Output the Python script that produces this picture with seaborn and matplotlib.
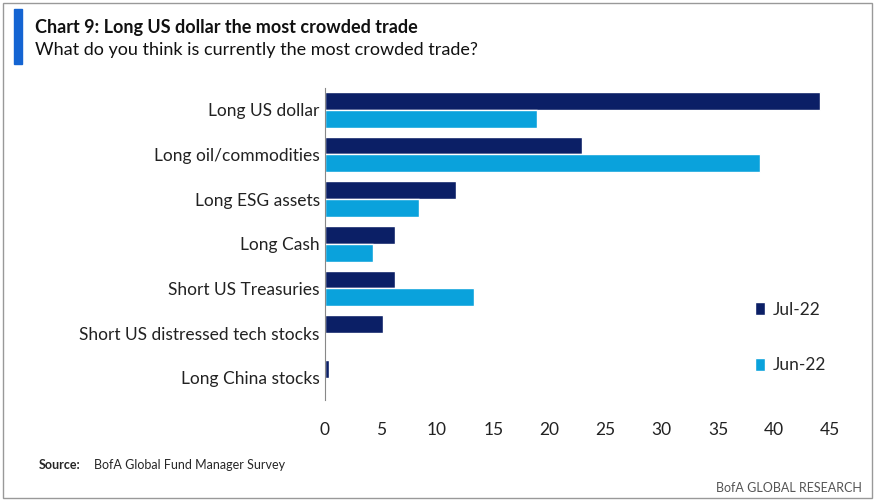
import matplotlib.pyplot as plt
import seaborn as sns
import pandas as pd
from matplotlib.patches import Rectangle

categories = ["Long US dollar", "Long oil/commodities", "Long ESG assets", "Long Cash",
              "Short US Treasuries", "Short US distressed tech stocks", "Long China stocks"]
jul_22 = [44.1, 22.9, 11.7, 6.3, 6.3, 5.2, 0.4]
jun_22 = [18.9, 38.7, 8.4, 4.3, 13.3, 0.0, 0.0]

df = pd.DataFrame({"cat": categories * 2,
                   "val": jul_22 + jun_22,
                   "series": ["Jul-22"] * 7 + ["Jun-22"] * 7})

sns.set_style("white")
plt.rcParams['font.family'] = ['Lato', 'DejaVu Sans']

fig = plt.figure(figsize=(8.75, 5.0), dpi=100)
ax = fig.add_axes([0.371, 0.2, 0.578, 0.625])
sns.barplot(data=df, y="cat", x="val", hue="series", orient="h",
            palette=["#0b1f66", "#0aa2dc"], width=0.8, saturation=1, ax=ax)

ax.set_xlim(0, 45)
ax.set_xticks(range(0, 46, 5))
ax.set_xlabel("")
ax.set_ylabel("")
ax.tick_params(axis="both", length=0, labelsize=12.5, colors="#222222")
ax.tick_params(axis="x", pad=16)
for s in ["top", "right", "bottom"]:
    ax.spines[s].set_visible(False)
ax.spines["left"].set_color("#888888")

ax.legend(loc="center left", bbox_to_anchor=(0.82, 0.2), frameon=False,
          fontsize=12.5, labelspacing=2.3, handlelength=0.6, handleheight=0.8,
          handletextpad=0.4)

# frame and header
fig.add_artist(Rectangle((0.003, 0.005), 0.994, 0.99, transform=fig.transFigure,
                         fill=False, edgecolor="#999999", lw=1))
fig.add_artist(Rectangle((0.016, 0.872), 0.009, 0.11, transform=fig.transFigure,
                         color="#1464d2"))
fig.text(0.04, 0.945, "Chart 9: Long US dollar the most crowded trade",
         fontsize=13, fontweight="bold", va="center", color="#111111")
fig.text(0.04, 0.9, "What do you think is currently the most crowded trade?",
         fontsize=13, va="center", color="#111111")
fig.text(0.044, 0.07, "Source:", fontsize=9, fontweight="bold", va="center")
fig.text(0.107, 0.07, "BofA Global Fund Manager Survey", fontsize=9, va="center")
fig.text(0.985, 0.025, "BofA GLOBAL RESEARCH", fontsize=9, va="center", ha="right",
         color="#555555")

fig.savefig("out.png", dpi=100)
